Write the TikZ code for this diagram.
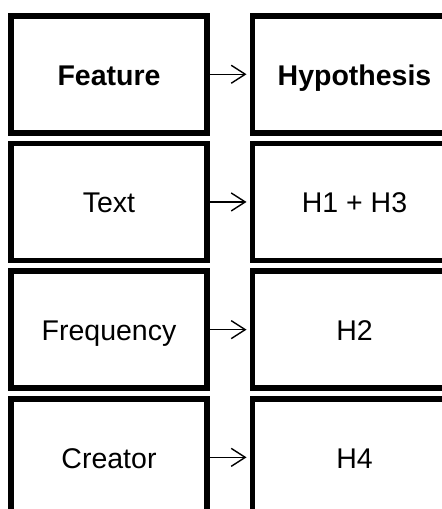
\documentclass[tikz,border=0pt]{standalone}
\usepackage{fontspec}
\setmainfont{Liberation Sans}
\usepackage{tikz}
\usetikzlibrary{arrows.meta,positioning}
\newcommand{\labelfont}{\fontsize{28.5pt}{34pt}\selectfont}

\begin{document}
\begin{tikzpicture}[
        node distance=10.7pt and 45.5pt,
        cell/.style={rectangle, draw=black, line width=5.5pt, minimum width=196pt, minimum height=117pt, inner sep=0pt, outer sep=0pt, text height=24pt, text depth=2pt, align=center, font=\labelfont},
        hcell/.style={cell, minimum width=204pt},
        arrow/.style={-{Straight Barb[length=14pt,width=18pt]}, line width=1.4pt, shorten >=6pt}
    ]
    \useasboundingbox (0,0) rectangle (442pt,-509pt);
    \clip (0,0) rectangle (442pt,-509pt);
    % left column: features, right column: hypotheses
    \node[cell] (feat) at (109pt,-74.25pt) {\textbf{Feature}};
    \node[hcell, right=of feat] (hyp) {\textbf{Hypothesis}};
    \node[cell, below=of feat] (text) {Text};
    \node[hcell, right=of text] (texthyp) {H1 + H3};
    \node[cell, below=of text] (freq) {Frequency};
    \node[hcell, right=of freq] (freqhyp) {H2};
    \node[cell, below=of freq] (creator) {Creator};
    \node[hcell, right=of creator] (creatorhyp) {H4};
    \draw[arrow] (feat) -- (hyp);
    \draw[arrow] (text) -- (texthyp);
    \draw[arrow] (freq) -- (freqhyp);
    \draw[arrow] (creator) -- (creatorhyp);
\end{tikzpicture}
\end{document}
